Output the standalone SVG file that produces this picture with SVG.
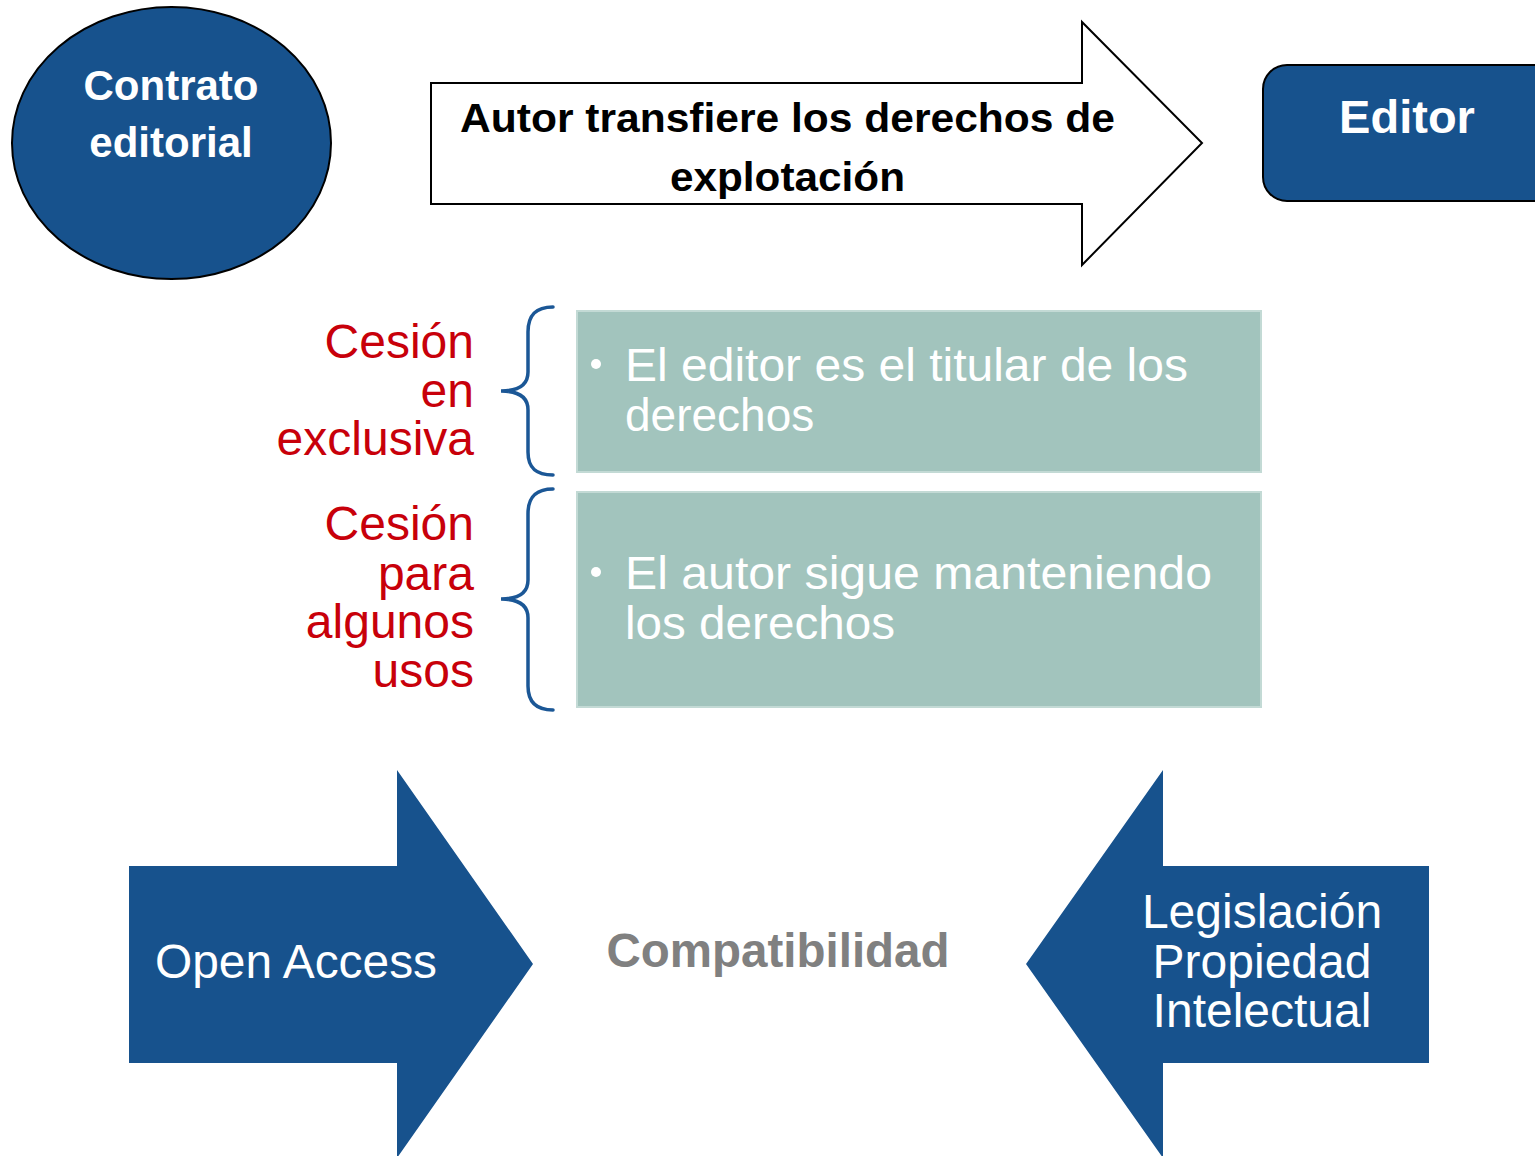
<svg xmlns="http://www.w3.org/2000/svg" width="1535" height="1156" viewBox="0 0 1535 1156">
<style>
.blue{fill:#17528d}
.wb{fill:#ffffff;font-family:"Liberation Sans",Arial,sans-serif;font-weight:bold}
.w{fill:#ffffff;font-family:"Liberation Sans",Arial,sans-serif}
.red{fill:#c8000a;font-family:"Liberation Sans",Arial,sans-serif;font-size:48px;text-anchor:end}
.teal{fill:#a2c4bd;stroke:#c3dad5;stroke-width:2}
.brace{fill:none;stroke:#1b5796;stroke-width:3.5;stroke-linecap:round}
</style>
<rect width="1535" height="1156" fill="#ffffff"/>
<g id="contrato">
<ellipse cx="171.5" cy="143" rx="159.5" ry="136" class="blue" stroke="#000" stroke-width="2"/>
<text class="wb" font-size="42" text-anchor="middle" x="171" y="100">Contrato</text>
<text class="wb" font-size="42" text-anchor="middle" x="171" y="157">editorial</text>
</g>
<g id="transfer-arrow">
<path d="M431,83 H1082 V22 L1202,143 L1082,265 V204 H431 Z" fill="#ffffff" stroke="#000" stroke-width="2"/>
<text font-family="'Liberation Sans',Arial,sans-serif" font-weight="bold" font-size="41" fill="#000" x="460" y="132" textLength="655" lengthAdjust="spacingAndGlyphs">Autor transfiere los derechos de</text>
<text font-family="'Liberation Sans',Arial,sans-serif" font-weight="bold" font-size="41" fill="#000" x="670" y="191" textLength="235" lengthAdjust="spacingAndGlyphs">explotación</text>
</g>
<g id="editor">
<rect x="1263" y="65" width="300" height="136" rx="24" class="blue" stroke="#000" stroke-width="2"/>
<text class="wb" font-size="47" text-anchor="middle" x="1407" y="133">Editor</text>
</g>
<g id="label-exclusiva">
<text class="red" x="474" y="358">Cesión</text>
<text class="red" x="474" y="407">en</text>
<text class="red" x="474" y="455">exclusiva</text>
</g>
<g id="label-algunos">
<text class="red" x="474" y="540">Cesión</text>
<text class="red" x="474" y="590">para</text>
<text class="red" x="474" y="638">algunos</text>
<text class="red" x="474" y="687">usos</text>
</g>
<g id="connectors">
<path class="brace" d="M553,307 C536,307 528,315 528,332 L528,372 C528,385 518,391 501,391 C518,391 528,397 528,410 L528,452 C528,468 536,475 553,475"/>
<path class="brace" d="M553,489 C536,489 528,497 528,514 L528,580 C528,593 518,599 501,599 C518,599 528,605 528,618 L528,686 C528,702 536,710 553,710"/>
</g>
<g id="box-editor">
<rect x="577" y="311" width="684" height="161" class="teal"/>
<circle cx="596" cy="364" r="5" fill="#ffffff"/>
<text class="w" font-size="46" x="625" y="381" textLength="563" lengthAdjust="spacingAndGlyphs">El editor es el titular de los</text>
<text class="w" font-size="46" x="625" y="431">derechos</text>
</g>
<g id="box-autor">
<rect x="577" y="492" width="684" height="215" class="teal"/>
<circle cx="596" cy="572" r="5" fill="#ffffff"/>
<text class="w" font-size="46" x="625" y="589" textLength="587" lengthAdjust="spacingAndGlyphs">El autor sigue manteniendo</text>
<text class="w" font-size="46" x="625" y="639" textLength="270" lengthAdjust="spacingAndGlyphs">los derechos</text>
</g>
<g id="open-access">
<path d="M129,866 H397 V770 L533,964 L397,1158 V1063 H129 Z" class="blue"/>
<text class="w" font-size="47.5" x="155" y="978" textLength="282" lengthAdjust="spacingAndGlyphs">Open Access</text>
</g>
<g id="compatibilidad">
<text font-family="'Liberation Sans',Arial,sans-serif" font-weight="bold" font-size="47.5" fill="#808080" text-anchor="middle" x="778" y="967">Compatibilidad</text>
</g>
<g id="legislacion">
<path d="M1429,866 H1163 V770 L1026,964 L1163,1158 V1063 H1429 Z" class="blue"/>
<text class="w" font-size="48" text-anchor="middle" x="1262" y="928">Legislación</text>
<text class="w" font-size="48" text-anchor="middle" x="1262" y="978">Propiedad</text>
<text class="w" font-size="48" text-anchor="middle" x="1262" y="1027">Intelectual</text>
</g>
</svg>
